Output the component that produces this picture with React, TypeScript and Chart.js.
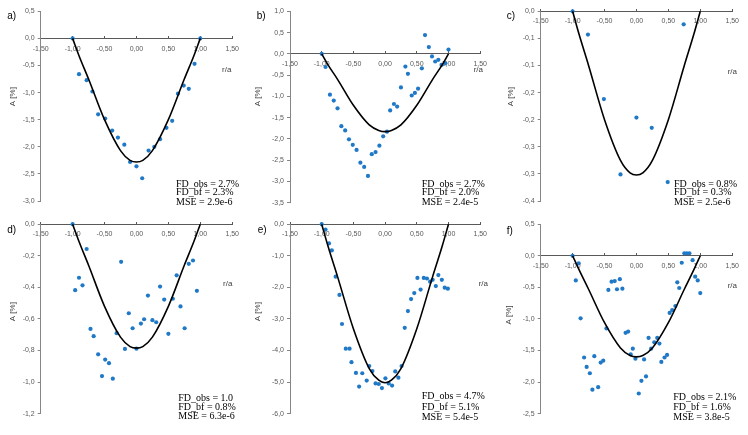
import { useEffect, useRef } from "react";
import { Chart, registerables } from "chart.js";

Chart.register(...registerables);

// shared axis values
const xTicks = [-1.5, -1, -0.5, 0, 0.5, 1, 1.5];
const fitR = [-1, -0.9, -0.75, -0.5, -0.25, -0.1, 0, 0.1, 0.25, 0.5, 0.75, 0.9, 1];

// a)
const aR = [-1.0, -0.9, -0.78, -0.69, -0.6, -0.49, -0.38, -0.29, -0.19, -0.1, 0.0, 0.09, 0.19, 0.28, 0.37, 0.47, 0.56, 0.65, 0.74, 0.82, 0.91, 1.0];
const aA = [0, -0.66, -0.77, -0.98, -1.4, -1.48, -1.7, -1.83, -1.96, -2.28, -2.36, -2.58, -2.07, -2.0, -1.86, -1.65, -1.52, -1.02, -0.87, -0.93, -0.47, 0.0];
const aFit = [0, -0.32, -0.75, -1.5, -2.07, -2.25, -2.28, -2.25, -2.07, -1.5, -0.75, -0.32, 0];
const aYTicks = [0.5, 0, -0.5, -1, -1.5, -2, -2.5, -3];
const aStats = ["FD_obs = 2.7%", "FD_bf = 2.3%", "MSE = 2.9e-6"];

// b)
const bR = [-1.0, -0.94, -0.87, -0.81, -0.75, -0.69, -0.63, -0.57, -0.51, -0.45, -0.39, -0.33, -0.27, -0.21, -0.15, -0.09, -0.03, 0.03, 0.08, 0.14, 0.19, 0.25, 0.32, 0.36, 0.42, 0.47, 0.52, 0.58, 0.63, 0.69, 0.74, 0.79, 0.84, 0.89, 0.95, 1.0];
const bA = [0, -0.31, -0.96, -1.1, -1.28, -1.7, -1.8, -2.01, -2.14, -2.26, -2.56, -2.66, -2.87, -2.36, -2.31, -2.16, -1.94, -1.83, -1.33, -1.18, -1.24, -0.79, -0.3, -0.47, -0.98, -0.92, -0.82, -0.34, 0.44, 0.16, -0.06, -0.18, -0.14, -0.26, -0.22, 0.1];
const bFit = [0, -0.26, -0.6, -1.21, -1.67, -1.8, -1.83, -1.8, -1.67, -1.21, -0.6, -0.26, 0];
const bYTicks = [1, 0.5, 0, -0.5, -1, -1.5, -2, -2.5, -3, -3.5];
const bStats = ["FD_obs = 2.7%", "FD_bf = 2.0%", "MSE = 2.4e-5"];

// c)
const cR = [-1.0, -0.76, -0.51, -0.25, 0.0, 0.24, 0.49, 0.74];
const cA = [0, -0.043, -0.162, -0.301, -0.196, -0.215, -0.315, -0.024];
const cFit = [0, -0.042, -0.1, -0.2, -0.275, -0.298, -0.302, -0.298, -0.275, -0.2, -0.1, -0.042, 0];
const cYTicks = [0, -0.05, -0.1, -0.15, -0.2, -0.25, -0.3, -0.35];
const cStats = ["FD_obs = 0.8%", "FD_bf = 0.3%", "MSE = 2.5e-6"];

// d)
const dR = [-1.0, -0.96, -0.9, -0.845, -0.78, -0.72, -0.67, -0.6, -0.54, -0.49, -0.43, -0.37, -0.31, -0.24, -0.18, -0.12, -0.06, 0.0, 0.07, 0.12, 0.18, 0.25, 0.31, 0.37, 0.435, 0.5, 0.57, 0.63, 0.69, 0.755, 0.82, 0.886, 0.947];
const dA = [0, -0.418, -0.339, -0.387, -0.157, -0.663, -0.709, -0.824, -0.962, -0.857, -0.88, -0.978, -0.69, -0.238, -0.79, -0.564, -0.659, -0.788, -0.629, -0.602, -0.452, -0.608, -0.621, -0.395, -0.477, -0.694, -0.472, -0.324, -0.521, -0.659, -0.251, -0.23, -0.422];
const dFit = [0, -0.11, -0.26, -0.52, -0.715, -0.775, -0.785, -0.775, -0.715, -0.52, -0.26, -0.11, 0];
const dYTicks = [0, -0.2, -0.4, -0.6, -0.8, -1.0, -1.2];
const dStats = ["FD_obs = 1.0", "FD_bf = 0.8%", "MSE = 6.3e-6"];

// e)
const eR = [-1.0, -0.94, -0.885, -0.84, -0.78, -0.72, -0.68, -0.62, -0.56, -0.53, -0.46, -0.41, -0.36, -0.29, -0.25, -0.2, -0.15, -0.1, -0.05, 0.005, 0.057, 0.11, 0.16, 0.21, 0.26, 0.31, 0.36, 0.41, 0.46, 0.51, 0.56, 0.61, 0.66, 0.71, 0.75, 0.8, 0.84, 0.895, 0.94, 0.99];
const eA = [0, -0.17, -0.61, -0.83, -1.66, -2.24, -3.16, -3.94, -3.94, -4.37, -4.71, -5.14, -4.72, -4.95, -4.49, -4.65, -5.04, -5.06, -5.19, -4.88, -5.04, -5.11, -4.66, -4.86, -4.49, -3.28, -2.75, -2.37, -2.18, -1.7, -2.07, -1.7, -1.72, -1.82, -1.76, -1.96, -1.61, -1.76, -2.01, -2.04];
const eFit = [0, -0.7, -1.66, -3.31, -4.57, -4.94, -5.02, -4.94, -4.57, -3.31, -1.66, -0.7, 0];
const eYTicks = [0, -1, -2, -3, -4, -5, -6];
const eStats = ["FD_obs = 4.7%", "FD_bf = 5.1%", "MSE = 5.4e-5"];

// f)
const fR = [-1.0, -0.95, -0.905, -0.875, -0.82, -0.78, -0.73, -0.69, -0.66, -0.6, -0.56, -0.52, -0.47, -0.44, -0.39, -0.34, -0.305, -0.26, -0.22, -0.17, -0.13, -0.09, -0.057, -0.016, 0.036, 0.078, 0.12, 0.15, 0.19, 0.23, 0.28, 0.326, 0.36, 0.39, 0.44, 0.48, 0.52, 0.56, 0.61, 0.64, 0.67, 0.71, 0.75, 0.79, 0.83, 0.88, 0.92, 0.96, 1.0];
const fA = [0, -0.39, -0.12, -0.99, -1.61, -1.76, -1.86, -2.12, -1.59, -2.08, -1.69, -1.66, -1.15, -0.54, -0.41, -0.4, -0.53, -0.37, -0.52, -1.22, -1.2, -1.56, -1.47, -1.63, -2.18, -1.98, -1.64, -1.91, -1.3, -1.47, -1.37, -1.3, -1.39, -1.68, -1.61, -1.57, -0.905, -0.86, -0.795, -0.42, -0.51, -0.11, 0.04, 0.04, 0.04, -0.07, -0.33, -0.39, -0.59];
const fFit = [0, -0.22, -0.53, -1.06, -1.46, -1.58, -1.6, -1.58, -1.46, -1.06, -0.53, -0.22, 0];
const fYTicks = [0.5, 0, -0.5, -1, -1.5, -2, -2.5];
const fStats = ["FD_obs = 2.1%", "FD_bf = 1.6%", "MSE = 3.8e-5"];

const fmtX = (v: number) => (Math.abs(v) < 1e-9 ? 0 : v).toFixed(2).replace(".", ",");
const fmtY = (v: number) => {
  const r = Math.round(Math.abs(v) * 10 + 1e-6) / 10;
  return (v < -1e-9 ? "-" : "") + r.toFixed(1).replace(".", ",");
};

type Pt = [number, number];
type Place = {
  left: number;
  top: number;
  w: number;
  h: number;
  area: [number, number, number, number]; // L, T, R, B
  tag: Pt;
  yTitle: Pt;
  xTitle: Pt;
  statsX: number;
  statsY: [number, number, number];
};

type PanelProps = {
  label: string;
  r: number[];
  a: number[];
  fit: number[];
  yTicks: number[];
  stats: string[];
  place: Place;
};

const TICK_FONT = { family: "'Liberation Sans', Arial, sans-serif", size: 7 };
const TICK_COLOR = "#595959";

function Panel({ label, r, a, fit, yTicks, stats, place }: PanelProps) {
  const canvasRef = useRef<HTMLCanvasElement | null>(null);

  useEffect(() => {
    if (!canvasRef.current) return;
    const [L, T, R, B] = place.area;

    const textPlugin = {
      id: "panelText",
      afterDraw(chart: Chart) {
        const ctx = chart.ctx;
        ctx.save();
        ctx.textBaseline = "middle";

        ctx.fillStyle = "#000";
        ctx.textAlign = "left";
        ctx.font = "10px 'Liberation Sans', Arial, sans-serif";
        ctx.fillText(label, place.tag[0], place.tag[1]);

        ctx.fillStyle = "#404040";
        ctx.font = "8px 'Liberation Sans', Arial, sans-serif";
        ctx.textAlign = "center";
        ctx.fillText("r/a", place.xTitle[0], place.xTitle[1]);
        ctx.save();
        ctx.translate(place.yTitle[0], place.yTitle[1]);
        ctx.rotate(-Math.PI / 2);
        ctx.fillText("A [%]", 0, 0);
        ctx.restore();

        ctx.fillStyle = "#000";
        ctx.textAlign = "left";
        ctx.font = "10px 'Liberation Serif', 'Times New Roman', serif";
        stats.forEach((s, i) => ctx.fillText(s, place.statsX, place.statsY[i]));
        ctx.restore();
      },
    };

    const chart = new Chart(canvasRef.current, {
      type: "scatter",
      data: {
        datasets: [
          {
            data: fitR.map((x, i) => ({ x, y: fit[i] })),
            showLine: true,
            borderColor: "#000",
            borderWidth: 1.6,
            pointRadius: 0,
            cubicInterpolationMode: "monotone",
            clip: false,
          },
          {
            data: r.map((x, i) => ({ x, y: a[i] })),
            backgroundColor: "#2079c7",
            borderWidth: 0,
            pointRadius: 2.1,
            clip: false,
          },
        ],
      },
      options: {
        responsive: false,
        animation: false,
        events: [],
        layout: { padding: { left: 0, top: T, right: place.w - R, bottom: place.h - B } },
        plugins: { legend: { display: false }, tooltip: { enabled: false } },
        scales: {
          x: {
            type: "linear",
            position: { y: 0 },
            min: -1.5,
            max: 1.5,
            afterBuildTicks: (s: any) => {
              s.ticks = xTicks.map((value) => ({ value }));
            },
            afterFit: (s: any) => {
              s.height = 0;
            },
            grid: { drawOnChartArea: false, drawTicks: true, tickLength: -3, color: "#595959" },
            border: { color: "#595959", width: 1 },
            ticks: {
              padding: 9,
              autoSkip: false,
              maxRotation: 0,
              font: TICK_FONT,
              color: TICK_COLOR,
              callback: (v: any) => fmtX(Number(v)),
            },
          },
          y: {
            type: "linear",
            position: "left",
            min: yTicks[yTicks.length - 1],
            max: yTicks[0],
            afterBuildTicks: (s: any) => {
              s.ticks = yTicks.map((value) => ({ value }));
            },
            afterFit: (s: any) => {
              s.width = L;
            },
            grid: { drawOnChartArea: false, drawTicks: true, tickLength: 3, color: "#868686" },
            border: { color: "#868686", width: 1 },
            ticks: {
              padding: 3,
              autoSkip: false,
              font: TICK_FONT,
              color: TICK_COLOR,
              callback: (v: any) => fmtY(Number(v)),
            },
          },
        },
      },
      plugins: [textPlugin],
    });

    return () => {
      chart.destroy();
    };
  }, [label, r, a, fit, yTicks, stats, place]);

  return (
    <canvas
      ref={canvasRef}
      width={place.w}
      height={place.h}
      style={{ position: "absolute", left: place.left, top: place.top }}
    />
  );
}

const placeA: Place = { left: 0, top: 0, w: 248, h: 217, area: [40.7, 11.3, 236, 201], tag: [7.3, 16], yTitle: [12.7, 96.7], xTitle: [226.7, 70], statsX: 176, statsY: [184, 192.7, 202] };
const placeB: Place = { left: 248, top: 0, w: 248, h: 217, area: [42, 11.3, 235.3, 202.7], tag: [8.7, 16], yTitle: [9.7, 96.7], xTitle: [230.3, 70], statsX: 173.7, statsY: [184, 192.7, 202] };
const placeC: Place = { left: 496, top: 0, w: 252, h: 217, area: [44.7, 11.3, 238, 201], tag: [10.7, 16], yTitle: [15, 96.7], xTitle: [236.3, 71.7], statsX: 178, statsY: [184, 192.7, 202] };
const placeD: Place = { left: 0, top: 217, w: 248, h: 218, area: [40.7, 5.3, 236, 196.7], tag: [7.3, 13], yTitle: [12.7, 94.7], xTitle: [227.7, 66.3], statsX: 178.3, statsY: [181.3, 190.7, 199.7] };
const placeE: Place = { left: 248, top: 217, w: 248, h: 218, area: [42, 5.3, 235.3, 196.7], tag: [9.7, 13], yTitle: [9.7, 94.7], xTitle: [235.3, 67], statsX: 173.7, statsY: [179.7, 190.7, 200.3] };
const placeF: Place = { left: 496, top: 217, w: 252, h: 218, area: [44.7, 6.7, 238, 196.7], tag: [10.7, 14], yTitle: [13, 98], xTitle: [236.3, 68.7], statsX: 177.3, statsY: [180.7, 190.7, 200] };

export default function App() {
  return (
    <div style={{ position: "fixed", left: 0, top: 0, width: 748, height: 435, background: "#fff", overflow: "hidden" }}>
      <Panel label="a)" r={aR} a={aA} fit={aFit} yTicks={aYTicks} stats={aStats} place={placeA} />
      <Panel label="b)" r={bR} a={bA} fit={bFit} yTicks={bYTicks} stats={bStats} place={placeB} />
      <Panel label="c)" r={cR} a={cA} fit={cFit} yTicks={cYTicks} stats={cStats} place={placeC} />
      <Panel label="d)" r={dR} a={dA} fit={dFit} yTicks={dYTicks} stats={dStats} place={placeD} />
      <Panel label="e)" r={eR} a={eA} fit={eFit} yTicks={eYTicks} stats={eStats} place={placeE} />
      <Panel label="f)" r={fR} a={fA} fit={fFit} yTicks={fYTicks} stats={fStats} place={placeF} />
    </div>
  );
}
